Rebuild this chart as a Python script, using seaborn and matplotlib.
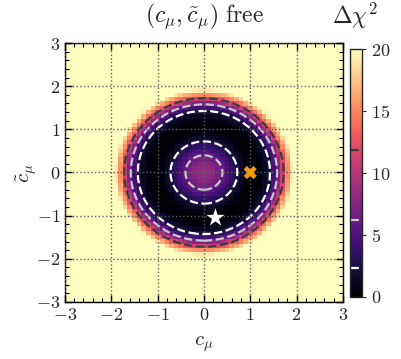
import numpy as np
import matplotlib
matplotlib.use('Agg')
import matplotlib.pyplot as plt
from matplotlib.ticker import FuncFormatter, MultipleLocator
import seaborn as sns

# radial profile of delta chi^2 vs r = sqrt(c^2 + ct^2)
r_knots = [0.0, 0.2, 0.4, 0.55, 0.72, 0.9, 1.08, 1.25, 1.43, 1.58, 1.72, 1.85, 1.95, 2.1, 4.5]
dchi2_knots = [8.5, 7.9, 6.18, 4.3, 2.3, 0.7, 0.0, 0.6, 2.3, 6.18, 11.83, 17.0, 21.0, 28.0, 60.0]

levels = [2.3, 6.18, 11.83]
level_colors = ['white', '#c8c8c8', '#3c3c3c']

best_fit = (0.25, -1.05)
sm_point = (1.0, 0.0)

ticks = [-3, -2, -1, 0, 1, 2, 3]
cbar_ticks = [0, 5, 10, 15, 20]

sns.set_style('ticks')
plt.rcParams['mathtext.fontset'] = 'cm'
plt.rcParams['font.family'] = ['cmr10', 'DejaVu Serif']
plt.rcParams['axes.unicode_minus'] = False

grid = np.linspace(-3, 3, 61)
X, Y = np.meshgrid(grid, grid)
Z = np.interp(np.sqrt(X**2 + Y**2), r_knots, dchi2_knots)

fine = np.linspace(-3, 3, 301)
XF, YF = np.meshgrid(fine, fine)
ZF = np.interp(np.sqrt(XF**2 + YF**2), r_knots, dchi2_knots)

cmap = sns.color_palette('magma', as_cmap=True)
mathfmt = FuncFormatter(lambda v, p: r'$%g$' % v)

fig = plt.figure(figsize=(4.01, 3.59), dpi=100)
ax = fig.add_axes([0.162, 0.159, 0.693, 0.721])
cax = fig.add_axes([0.873, 0.173, 0.030, 0.690])

mesh = ax.pcolormesh(X, Y, Z, cmap=cmap, vmin=0, vmax=20, shading='nearest', rasterized=True)
cs = ax.contour(XF, YF, ZF, levels=levels, colors=level_colors, linestyles='--', linewidths=1.6)

sns.scatterplot(x=[best_fit[0]], y=[best_fit[1]], marker='*', s=190, color='white',
                edgecolor='none', ax=ax, zorder=5)
sns.scatterplot(x=[sm_point[0]], y=[sm_point[1]], marker='X', s=90, color='#f59a0c',
                edgecolor='none', ax=ax, zorder=5)

ax.set_xlim(-3, 3)
ax.set_ylim(-3, 3)
ax.set_xticks(ticks)
ax.set_yticks(ticks)
ax.xaxis.set_minor_locator(MultipleLocator(0.2))
ax.yaxis.set_minor_locator(MultipleLocator(0.2))
ax.xaxis.set_major_formatter(mathfmt)
ax.yaxis.set_major_formatter(mathfmt)
ax.tick_params(which='both', direction='in', top=True, right=True, labelsize=13, color='black')
ax.tick_params(which='major', length=5, width=1)
ax.tick_params(which='minor', length=3, width=0.8)
ax.grid(True, which='major', linestyle=':', color='#606060', linewidth=1.0)
ax.set_axisbelow(False)
for s in ax.spines.values():
    s.set_linewidth(1.0)
    s.set_color('black')

ax.set_xlabel(r'$c_\mu$', fontsize=15)
ax.set_ylabel(r'$\tilde{c}_\mu$', fontsize=15)
ax.xaxis.set_label_coords(0.5, -0.125)
ax.yaxis.set_label_coords(-0.095, 0.5)
fig.text(0.509, 0.955, r'$(c_\mu, \tilde{c}_\mu)\ \mathrm{free}$', fontsize=17,
         ha='center', va='center')

cb = fig.colorbar(mesh, cax=cax)
for lev, col in zip(levels, level_colors):
    cax.axhline(lev, color=col, linestyle=(0, (4, 2)), linewidth=1.6)
cb.set_ticks(cbar_ticks)
cb.ax.yaxis.set_major_formatter(mathfmt)
cb.ax.tick_params(direction='out', length=3, labelsize=13)
cb.outline.set_linewidth(1.0)
fig.text(0.885, 0.955, r'$\Delta\chi^2$', fontsize=17, ha='center', va='center')

fig.savefig('out.png', dpi=100)
